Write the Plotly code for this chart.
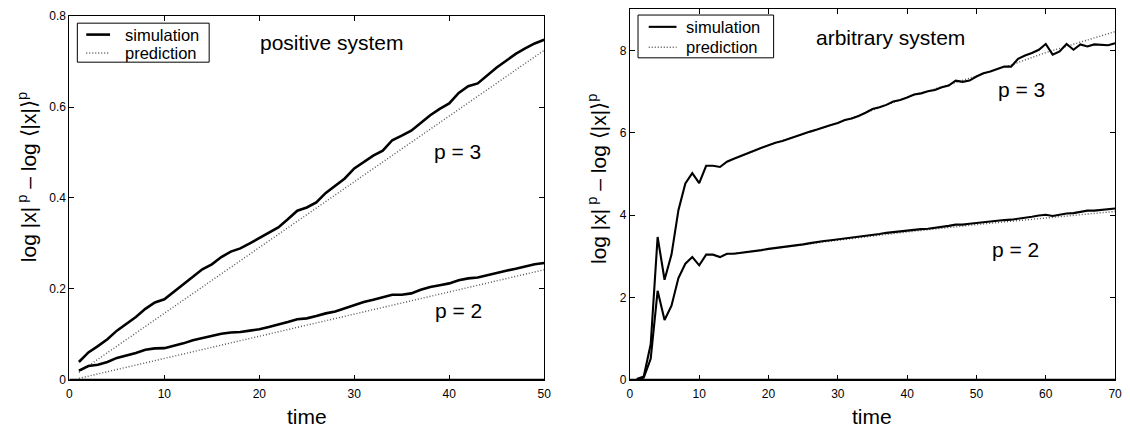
import plotly.graph_objects as go

# ---------------- data ----------------
time_left = list(range(1, 51))
sim3_left = [0.039, 0.060, 0.074, 0.089, 0.108, 0.123, 0.138, 0.156, 0.170, 0.177,
             0.194, 0.209, 0.226, 0.243, 0.254, 0.270, 0.282, 0.289, 0.300, 0.312,
             0.323, 0.335, 0.353, 0.372, 0.379, 0.390, 0.411, 0.427, 0.443, 0.465,
             0.479, 0.493, 0.504, 0.527, 0.537, 0.548, 0.565, 0.582, 0.596, 0.608,
             0.631, 0.646, 0.652, 0.670, 0.687, 0.702, 0.717, 0.729, 0.740, 0.748]
sim2_left = [0.020, 0.030, 0.033, 0.039, 0.048, 0.053, 0.059, 0.066, 0.069, 0.0695,
             0.074, 0.080, 0.087, 0.092, 0.097, 0.101, 0.104, 0.105, 0.108, 0.111,
             0.116, 0.121, 0.127, 0.133, 0.135, 0.140, 0.146, 0.150, 0.157, 0.164,
             0.171, 0.176, 0.181, 0.187, 0.187, 0.190, 0.198, 0.204, 0.208, 0.212,
             0.219, 0.223, 0.225, 0.230, 0.236, 0.240, 0.244, 0.249, 0.254, 0.257]
pred_time_left = [1, 10, 20, 30, 40, 50]
pred3_left = [0.016, 0.146, 0.291, 0.436, 0.580, 0.725]
pred2_left = [0.003, 0.047, 0.096, 0.145, 0.194, 0.242]

time_right = list(range(1, 71))
sim3_right = [0.02, 0.08, 0.86, 3.47, 2.43, 3.04, 4.12, 4.77, 5.02, 4.78,
              5.20, 5.20, 5.17, 5.30, 5.37, 5.44, 5.51, 5.57, 5.64, 5.70,
              5.76, 5.80, 5.86, 5.92, 5.98, 6.03, 6.08, 6.14, 6.19, 6.24,
              6.31, 6.35, 6.41, 6.49, 6.58, 6.62, 6.68, 6.76, 6.80, 6.86,
              6.93, 6.96, 7.01, 7.04, 7.11, 7.15, 7.27, 7.24, 7.27, 7.37,
              7.45, 7.49, 7.55, 7.61, 7.61, 7.80, 7.88, 7.94, 8.02, 8.16,
              7.90, 7.98, 8.16, 8.02, 8.15, 8.10, 8.15, 8.14, 8.13, 8.18]
sim2_right = [0.01, 0.05, 0.51, 2.16, 1.45, 1.80, 2.47, 2.82, 2.98, 2.78,
              3.04, 3.04, 2.98, 3.06, 3.06, 3.08, 3.11, 3.13, 3.15, 3.18,
              3.20, 3.22, 3.24, 3.27, 3.29, 3.32, 3.35, 3.37, 3.39, 3.41,
              3.43, 3.45, 3.47, 3.49, 3.52, 3.54, 3.57, 3.59, 3.61, 3.63,
              3.64, 3.66, 3.67, 3.69, 3.72, 3.74, 3.77, 3.77, 3.79, 3.81,
              3.83, 3.85, 3.87, 3.88, 3.89, 3.91, 3.94, 3.96, 3.99, 4.01,
              3.98, 4.01, 4.04, 4.05, 4.08, 4.11, 4.11, 4.13, 4.14, 4.16]
pred_time_right = [14, 20, 30, 40, 50, 55, 60, 65, 70]
pred3_right = [5.30, 5.70, 6.24, 6.86, 7.38, 7.65, 7.95, 8.20, 8.46]
pred2_right = [3.05, 3.17, 3.39, 3.59, 3.77, 3.85, 3.94, 4.01, 4.09]

legend_labels = ["simulation", "prediction"]

# ---------------- style / layout ----------------
W, H = 1130, 439
FONT = "Liberation Sans, Arial, Helvetica, sans-serif"
SIM_COLOR = "black"
PRED_COLOR = "#555555"
PRED_DASH = "1px,2px"


def px_x(p):
    return p / W


def px_y(p):
    return (H - p) / H


fig = go.Figure()


def add_line(x, y, xa, ya, name, sim, width):
    if sim:
        line = dict(color=SIM_COLOR, width=width)
    else:
        line = dict(color=PRED_COLOR, width=1.4, dash=PRED_DASH)
    fig.add_trace(go.Scatter(x=x, y=y, mode="lines", name=name, showlegend=False,
                             line=line, xaxis=xa, yaxis=ya))


# left panel
add_line(pred_time_left, pred3_left, "x", "y", "prediction", False, 1.4)
add_line(pred_time_left, pred2_left, "x", "y", "prediction", False, 1.4)
add_line(time_left, sim3_left, "x", "y", "simulation", True, 2.6)
add_line(time_left, sim2_left, "x", "y", "simulation", True, 2.6)
# right panel
add_line(pred_time_right, pred3_right, "x2", "y2", "prediction", False, 1.4)
add_line(pred_time_right, pred2_right, "x2", "y2", "prediction", False, 1.4)
add_line(time_right, sim3_right, "x2", "y2", "simulation", True, 2.1)
add_line(time_right, sim2_right, "x2", "y2", "simulation", True, 2.1)

axis_common = dict(showgrid=False, zeroline=False, showline=True, linecolor="black",
                   linewidth=1, mirror="ticks", ticks="inside", ticklen=5,
                   tickcolor="black", tickwidth=1,
                   tickfont=dict(family=FONT, size=12, color="black"))

x1_dom = [px_x(67), px_x(546)]
x2_dom = [px_x(632.5), px_x(1122)]
y_bottom = px_y(385)

fig.update_layout(
    width=W, height=H,
    margin=dict(l=0, r=0, t=0, b=0),
    paper_bgcolor="white", plot_bgcolor="white",
    font=dict(family=FONT, color="black"),
    showlegend=False,
    xaxis=dict(domain=x1_dom, range=[0, 50], tickvals=[0, 10, 20, 30, 40, 50],
               anchor="y", ticklabelstandoff=3, **axis_common),
    yaxis=dict(domain=[y_bottom, px_y(9.5)], range=[0, 0.8],
               tickvals=[0, 0.2, 0.4, 0.6, 0.8], ticktext=["0", "0.2", "0.4", "0.6", "0.8"],
               anchor="x", **axis_common),
    xaxis2=dict(domain=x2_dom, range=[0, 70], tickvals=[0, 10, 20, 30, 40, 50, 60, 70],
                anchor="y2", ticklabelstandoff=3, **axis_common),
    yaxis2=dict(domain=[y_bottom, px_y(2.5)], range=[0, 9],
                tickvals=[0, 2, 4, 6, 8], anchor="x2", **axis_common),
)

# thicker bottom axis lines
for dom in (x1_dom, x2_dom):
    fig.add_shape(type="line", xref="paper", yref="paper", x0=dom[0], x1=dom[1],
                  y0=y_bottom, y1=y_bottom, line=dict(color="black", width=2))


# legend boxes (drawn in pixel layout positions)
def legend_box(x0, x1, y0, y1, lx0, lx1, ly1, ly2, tx, sim_w):
    fig.add_shape(type="rect", xref="paper", yref="paper",
                  x0=px_x(x0), x1=px_x(x1), y0=px_y(y1), y1=px_y(y0),
                  line=dict(color="black", width=1), fillcolor="white", layer="above")
    fig.add_shape(type="line", xref="paper", yref="paper",
                  x0=px_x(lx0), x1=px_x(lx1), y0=px_y(ly1), y1=px_y(ly1),
                  line=dict(color=SIM_COLOR, width=sim_w))
    fig.add_shape(type="line", xref="paper", yref="paper",
                  x0=px_x(lx0), x1=px_x(lx1), y0=px_y(ly2), y1=px_y(ly2),
                  line=dict(color=PRED_COLOR, width=1.4, dash=PRED_DASH))
    for lab, yy in zip(legend_labels, (ly1, ly2)):
        fig.add_annotation(text=lab, xref="paper", yref="paper", x=px_x(tx), y=px_y(yy),
                           xanchor="left", yanchor="middle", showarrow=False,
                           font=dict(family=FONT, size=16.5, color="black"))


legend_box(75, 208, 16.7, 57, 84, 108, 28.5, 47.5, 121, 2.6)
legend_box(640.7, 777.5, 8.3, 52.5, 651.5, 679.5, 20.5, 41.5, 687, 2.1)

ytitle = "log |x|<sup> p</sup> \u2013 log \u27e8|x|\u27e9<sup>p</sup>"
ann_font = dict(family=FONT, size=21, color="black")
annotations = [
    dict(text="positive system", x=px_x(331.5), y=px_y(37)),
    dict(text="p = 3", x=px_x(458.5), y=px_y(149)),
    dict(text="p = 2", x=px_x(460), y=px_y(313)),
    dict(text="arbitrary system", x=px_x(895.5), y=px_y(32)),
    dict(text="p = 3", x=px_x(1028), y=px_y(85)),
    dict(text="p = 2", x=px_x(1021.5), y=px_y(250)),
    dict(text="time", x=px_x(306.5), y=px_y(423)),
    dict(text="time", x=px_x(877), y=px_y(423)),
    dict(text=ytitle, x=px_x(25), y=px_y(176), textangle=-90),
    dict(text=ytitle, x=px_x(600), y=px_y(178), textangle=-90),
]
for a in annotations:
    fig.add_annotation(xref="paper", yref="paper", xanchor="center", yanchor="middle",
                       showarrow=False, font=ann_font, **a)

fig.write_html("out.html")
